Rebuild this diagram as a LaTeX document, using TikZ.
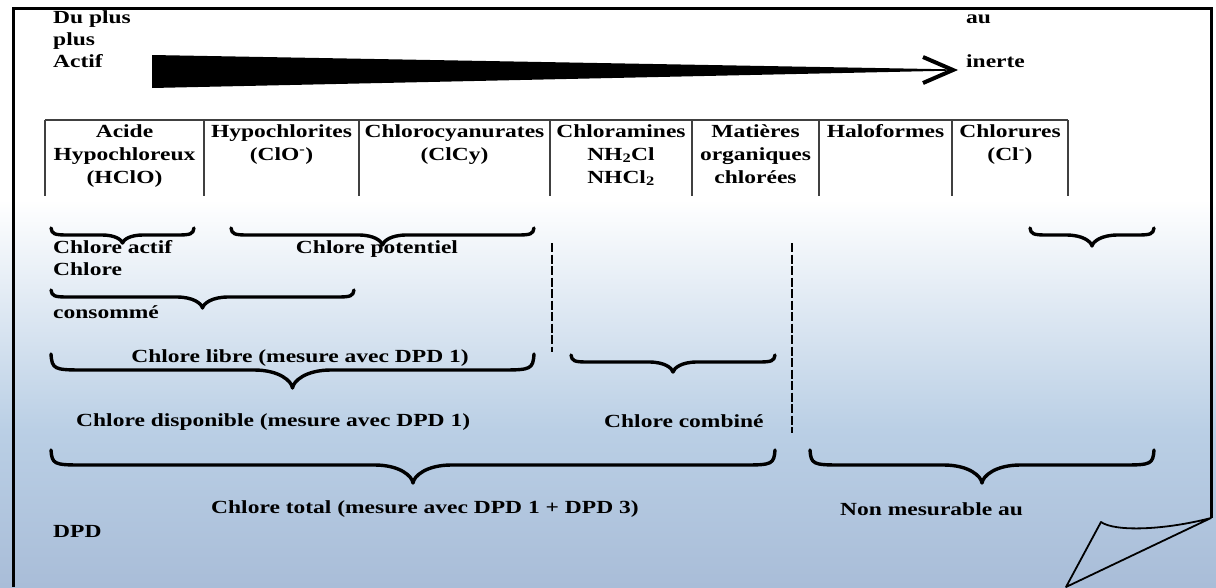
\documentclass[tikz,border=0pt]{standalone}
\usepackage{fontspec}
\setmainfont{Liberation Serif}[FakeStretch=1.27]
\usetikzlibrary{calc}
\definecolor{bgA}{HTML}{FFFFFF}
\definecolor{bgB}{HTML}{BACFE5}
\definecolor{bgC}{HTML}{A9BDD8}
\newcommand{\mybrace}[5]{%
 \pgfmathsetmacro{\brxm}{(#1+#2)/2}%
 \pgfmathsetmacro{\brha}{1.6*(#4-#3)+6}%
 \pgfmathsetmacro{\brtw}{1.8*(#5-#4)+6}%
 \pgfmathsetmacro{\brty}{#5-0.4*(#5-#4)}%
 \pgfmathsetmacro{\brtc}{0.35*\brtw}%
 \draw[bracestyle] (#1,#3) .. controls (#1+1,#4-1) and (#1+3,#4) .. (#1+\brha,#4)
  -- (\brxm-\brtw,#4) .. controls (\brxm-\brtc,#4) and (\brxm-1,\brty) .. (\brxm,#5)
  .. controls (\brxm+1,\brty) and (\brxm+\brtc,#4) .. (\brxm+\brtw,#4)
  -- (#2-\brha,#4) .. controls (#2-3,#4) and (#2-1,#4-1) .. (#2,#3);
}
\tikzset{
 lbl/.style={font=\bfseries\fontsize{18.5}{23}\selectfont, inner sep=0pt, anchor=base west},
 cell/.style={font=\bfseries\fontsize{18.5}{23}\selectfont, inner sep=0pt, anchor=base},
 bracestyle/.style={line width=3.4pt, line cap=round, line join=round},
 tabline/.style={line width=1.2pt, black!75},
 framestyle/.style={line width=3pt},
 dashsep/.style={line width=2pt, dash pattern=on 9pt off 2.5pt}
}
\begin{document}
\begin{tikzpicture}[x=1pt,y=-1pt]
\useasboundingbox (0,0) rectangle (1216,587);
% background
\fill[white] (0,0) rectangle (1216,200);
\shade[top color=bgA, bottom color=bgB] (0,199.5) rectangle (1216,430);
\shade[top color=bgB, bottom color=bgC] (0,429.5) rectangle (1216,587);
% frame
\draw[framestyle] (13,587) -- (13,8) -- (1211,8) -- (1211,518);
% page curl
\coordinate (cA) at (1211,518);
\coordinate (cB) at (1101,522);
\coordinate (cC) at (1066,587);
\draw[line width=1.8pt, line join=round] (cB) .. controls (1115,532) and (1165,530) .. (cA) -- (cC) -- cycle;
% top labels
\node[lbl] (du) at (53,23) {Du plus};
\node[lbl] (plus) at (53,45) {plus};
\node[lbl] (actif) at (53,67) {Actif};
\node[lbl] (au) at (966,23) {au};
\node[lbl] (inerte) at (966,67) {inerte};
% tapered arrow
\fill (152,55) -- (948,69.3) -- (948,70.7) -- (152,88) -- cycle;
\draw[line width=4pt, line join=miter] (923,57) -- (953,70) -- (923,83);
% table
\draw[tabline] (45,120) -- (1068,120);
\foreach \xx in {45,204,359,550,692,819,952,1068}
  \draw[tabline] (\xx,120) -- (\xx,196);
\node[cell] (c1a) at (124.5,137) {Acide};
\node[cell] (c1b) at (124.5,160) {Hypochloreux};
\node[cell] (c1c) at (124.5,183) {(HClO)};
\node[cell] (c2a) at (281.5,137) {Hypochlorites};
\node[cell] (c2b) at (281.5,160) {(ClO\textsuperscript{-})};
\node[cell] (c3a) at (454.5,137) {Chlorocyanurates};
\node[cell] (c3b) at (454.5,160) {(ClCy)};
\node[cell] (c4a) at (621,137) {Chloramines};
\node[cell] (c4b) at (621,160) {NH\textsubscript{2}Cl};
\node[cell] (c4c) at (621,183) {NHCl\textsubscript{2}};
\node[cell] (c5a) at (755.5,137) {Matières};
\node[cell] (c5b) at (755.5,160) {organiques};
\node[cell] (c5c) at (755.5,183) {chlorées};
\node[cell] (c6a) at (885.5,137) {Haloformes};
\node[cell] (c7a) at (1010,137) {Chlorures};
\node[cell] (c7b) at (1010,160) {(Cl\textsuperscript{-})};
% dashed separators
\draw[dashsep] (552,243) -- (552,352);
\draw[dashsep] (792,243) -- (792,433);
% braces
\mybrace{51}{194}{228}{235}{243}
\mybrace{231}{534}{228}{235}{245}
\mybrace{1030}{1154}{228}{235}{246}
\mybrace{51}{354}{290}{297}{308}
\mybrace{51}{534}{354}{370}{388}
\mybrace{571}{775}{355}{362}{372}
\mybrace{51}{775}{450}{465}{483}
\mybrace{810}{1154}{450}{465}{483}
% brace labels
\node[lbl] (actifc) at (53,253) {Chlore actif};
\node[cell] (potent) at (377,253) {Chlore potentiel};
\node[lbl] (chl) at (53,275) {Chlore};
\node[lbl] (cons) at (53,318) {consommé};
\node[cell] (libre) at (300,362) {Chlore libre (mesure avec DPD 1)};
\node[lbl] (dispo) at (76,426) {Chlore disponible (mesure avec DPD 1)};
\node[lbl] (comb) at (604,427) {Chlore combiné};
\node[lbl] (total) at (211,513) {Chlore total (mesure avec DPD 1 + DPD 3)};
\node[lbl] (nonm) at (840,515) {Non mesurable au};
\node[lbl] (dpd) at (53,537) {DPD};
\end{tikzpicture}
\end{document}
